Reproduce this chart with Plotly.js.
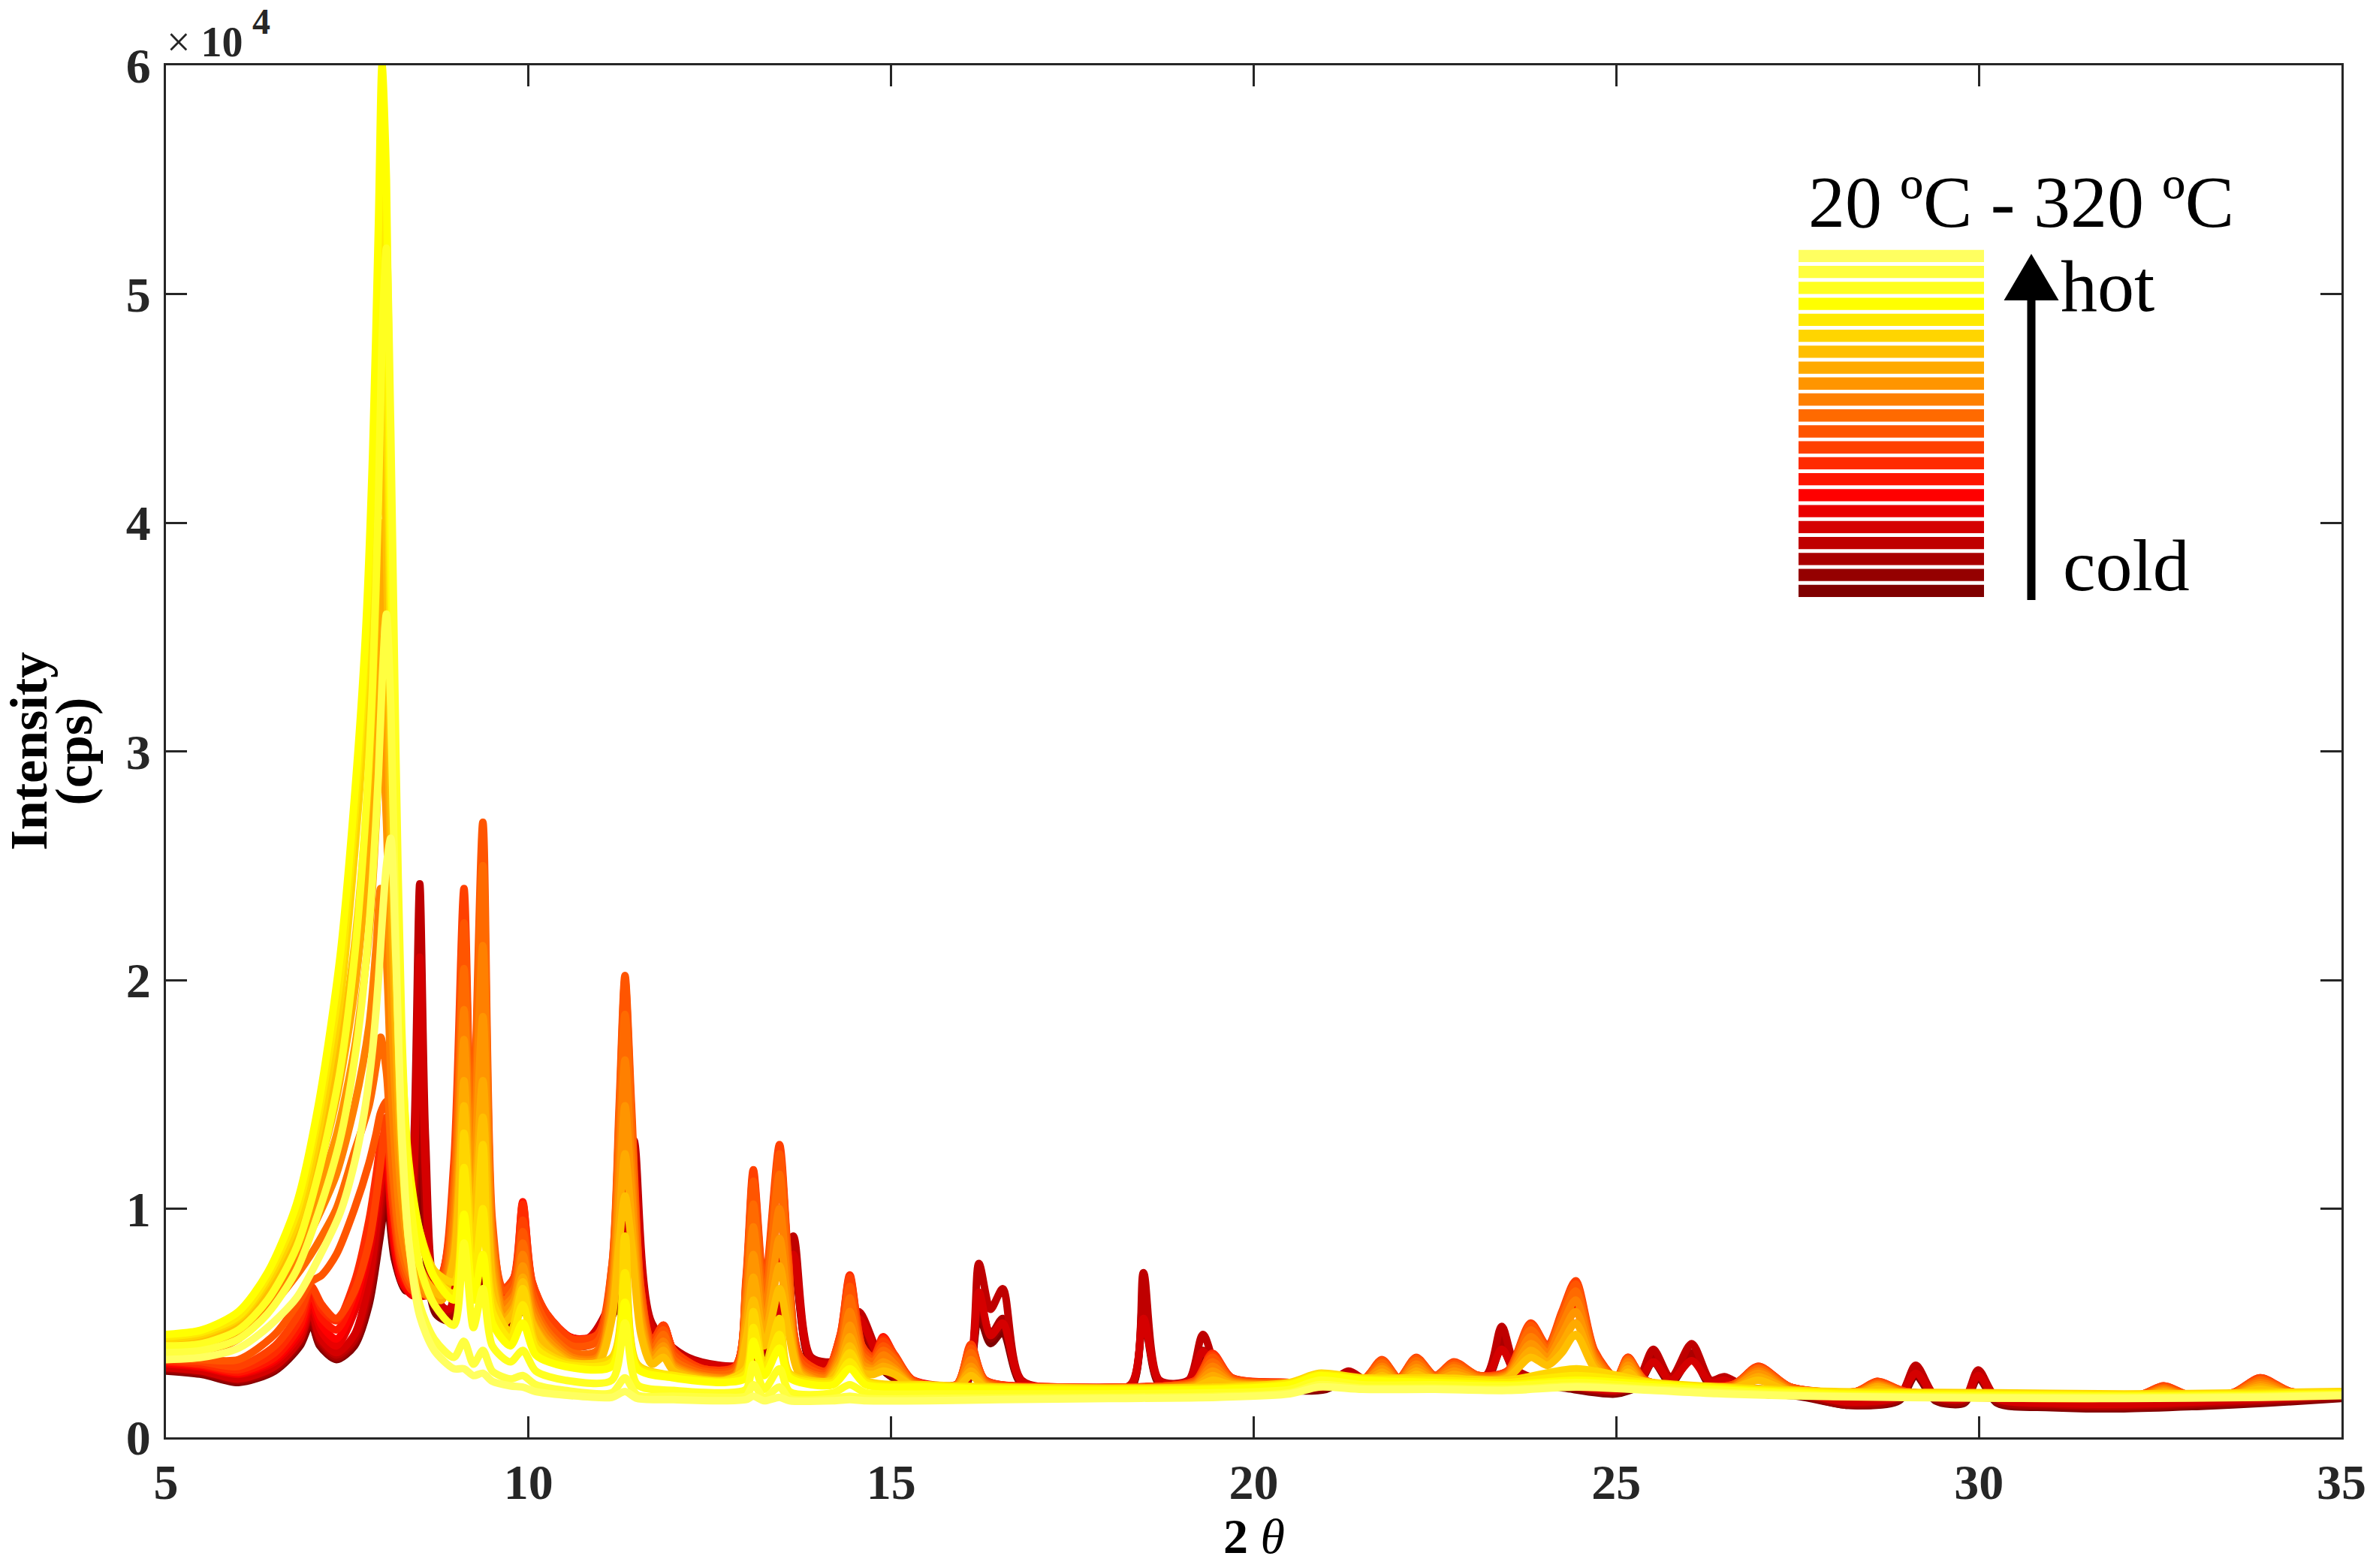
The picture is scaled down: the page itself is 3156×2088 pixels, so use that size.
<!DOCTYPE html>
<html><head><meta charset="utf-8">
<script src="https://cdn.plot.ly/plotly-3.0.1.min.js"></script>
<style>
html,body{margin:0;padding:0;background:#fff;}
#chart{width:3156px;height:2088px;}
.scatterlayer path.js-line{stroke-linejoin:round;stroke-linecap:round;}
</style></head><body><div id="chart"></div>
<script>
// ---- 2theta grids (degrees) ----
const twoThetaCold = [
5.0, 5.5, 6.0, 6.5, 6.85, 7.0, 7.12, 7.35, 7.6, 7.8,
7.95, 8.04, 8.15, 8.3, 8.42, 8.5, 8.58, 8.72, 8.9, 9.05,
9.15, 9.3, 9.42, 9.6, 9.97, 10.3, 10.8, 11.2, 11.45, 11.7,
12.2, 13.0, 13.4, 13.65, 13.9, 14.3, 14.55, 14.9, 15.3, 16.0,
16.21, 16.37, 16.54, 16.8, 17.5, 18.3, 18.48, 18.7, 19.1, 19.3,
19.55, 20.2, 21.0, 21.31, 21.6, 22.5, 23.2, 23.42, 23.65, 24.4,
25.0, 25.3, 25.51, 25.75, 26.04, 26.3, 26.49, 26.8, 27.5, 28.2,
28.9, 29.13, 29.4, 29.8, 29.99, 30.25, 31.0, 32.0, 33.0, 34.0,
35.0];
const twoThetaMid = [
5.0, 5.5, 6.0, 6.5, 6.85, 7.0, 7.15, 7.35, 7.6, 7.8,
7.9, 7.96, 8.04, 8.12, 8.25, 8.4, 8.6, 8.8, 8.97, 9.11,
9.22, 9.37, 9.5, 9.65, 9.8, 9.92, 10.05, 10.25, 10.6, 10.95,
11.15, 11.25, 11.33, 11.42, 11.55, 11.7, 11.86, 12.0, 12.4, 12.85,
13.0, 13.1, 13.25, 13.46, 13.58, 13.75, 14.1, 14.3, 14.43, 14.6,
14.75, 14.89, 15.05, 15.3, 15.9, 16.1, 16.3, 17.3, 18.8, 19.2,
19.43, 19.7, 20.5, 21.5, 21.77, 22.0, 22.24, 22.5, 22.76, 23.1,
23.5, 23.82, 24.05, 24.25, 24.44, 24.7, 25.0, 25.16, 25.4, 26.6,
26.96, 27.4, 28.3, 28.6, 29.0, 32.2, 32.55, 32.9, 33.5, 33.88,
34.3, 35.0];
const twoThetaHot = [
5.0, 5.5, 6.0, 6.4, 6.8, 7.1, 7.4, 7.6, 7.75, 7.85,
7.93, 7.98, 8.04, 8.1, 8.17, 8.25, 8.35, 8.5, 8.7, 8.97,
9.11, 9.24, 9.37, 9.5, 9.75, 9.92, 10.1, 10.5, 11.15, 11.33,
11.5, 12.0, 12.7, 13.0, 13.1, 13.25, 13.46, 13.6, 14.2, 14.43,
14.65, 15.5, 16.5, 18.0, 19.5, 20.5, 20.9, 21.5, 22.5, 23.5,
24.45, 25.5, 26.5, 28.0, 30.0, 32.0, 33.9, 35.0];

// ---- intensities (cps), coldest (I00) to hottest (I21) ----
const I00 = [
2900, 2750, 2400, 2900, 4000, 5000, 4000, 3400, 4000, 5800,
8700, 10500, 7800, 6400, 8000, 13000, 8000, 5400, 5100, 7000,
8500, 6100, 6500, 4600, 5600, 4400, 4000, 5600, 10000, 4500,
3200, 3000, 4400, 7600, 3200, 3100, 4800, 2900, 2200, 2100,
5300, 4100, 4600, 2300, 2000, 2100, 5200, 2300, 2300, 3500,
2400, 2100, 2100, 2600, 2200, 2400, 2450, 3900, 2600, 2100,
1900, 2250, 3300, 2350, 3500, 2250, 2400, 1950, 1800, 1400,
1600, 2700, 1600, 1500, 2600, 1500, 1300, 1250, 1350, 1500,
1700];
const I01 = [
2950, 2800, 2450, 2950, 4100, 5100, 4100, 3450, 4100, 6000,
9000, 11000, 8000, 6500, 9000, 15000, 9000, 5600, 5200, 7200,
9000, 6300, 6800, 4700, 5800, 4500, 4100, 5800, 10500, 4600,
3250, 3050, 4500, 7800, 3250, 3150, 4900, 2950, 2250, 2150,
5600, 4300, 4900, 2350, 2050, 2150, 5600, 2350, 2350, 3600,
2450, 2150, 2150, 2650, 2250, 2450, 2500, 4100, 2650, 2150,
1950, 2300, 3400, 2400, 3600, 2300, 2450, 2000, 1850, 1400,
1650, 2800, 1650, 1550, 2650, 1550, 1350, 1300, 1400, 1550,
1750];
const I02 = [
3000, 2850, 2500, 3000, 4200, 5300, 4200, 3500, 4200, 6200,
9500, 11500, 8200, 6600, 10000, 17000, 10000, 5800, 5300, 7500,
10000, 6500, 7000, 4800, 6000, 4600, 4200, 6000, 11000, 4700,
3300, 3100, 4600, 8000, 3300, 3200, 5000, 3000, 2300, 2200,
6000, 4500, 5200, 2400, 2100, 2200, 6000, 2400, 2400, 3800,
2500, 2200, 2200, 2700, 2300, 2500, 2550, 4300, 2700, 2200,
2000, 2350, 3500, 2450, 3700, 2350, 2500, 2050, 1900, 1450,
1700, 2900, 1700, 1600, 2700, 1600, 1400, 1350, 1450, 1600,
1800];
const I03 = [
3100, 2950, 2600, 3100, 4300, 5500, 4300, 3600, 4300, 6500,
10000, 12000, 8500, 6700, 13000, 24200, 13000, 6200, 5500, 8000,
13000, 7000, 8000, 5000, 6500, 4800, 4300, 6500, 13000, 5000,
3500, 3200, 5000, 8800, 3500, 3400, 5500, 3200, 2400, 2300,
7600, 5600, 6500, 2500, 2150, 2300, 7200, 2500, 2500, 4500,
2700, 2300, 2300, 2900, 2400, 2600, 2700, 4850, 2900, 2300,
2100, 2500, 3850, 2600, 4100, 2500, 2650, 2200, 2000, 1500,
1800, 3150, 1800, 1700, 2950, 1700, 1450, 1400, 1500, 1650,
1850];
const I04 = [
3050, 2900, 2550, 3100, 4300, 5600, 4400, 3700, 4500, 6800,
10500, 12500, 8800, 6800, 11500, 21000, 11500, 6000, 5600, 8500,
11000, 7000, 7500, 5000, 6200, 4800, 4300, 6200, 11500, 4800,
3400, 3200, 4800, 8000, 3400, 3300, 5200, 3100, 2350, 2250,
6350, 4450, 5000, 2450, 2150, 2250, 5200, 2450, 2450, 3750,
2600, 2250, 2250, 2700, 2350, 2550, 2600, 3850, 2700, 2250,
2050, 2400, 3300, 2500, 3350, 2400, 2500, 2100, 1950, 1550,
1800, 2800, 1800, 1700, 2700, 1700, 1500, 1450, 1550, 1700,
1850];
const I05 = [
3200, 3050, 2750, 3300, 4500, 5800, 4600, 4000, 5500, 8000,
10000, 11200, 12000, 9000, 6800, 6200, 6200, 6500, 8000, 11000,
7000, 10000, 6000, 5300, 6000, 8000, 6000, 5200, 4300, 4400,
5500, 9000, 12000, 9000, 5000, 4000, 4700, 3800, 3000, 3100,
4800, 7000, 4500, 8000, 6000, 3300, 2900, 3800, 5000, 3500,
3300, 3800, 3300, 2500, 2300, 3000, 2400, 2200, 2250, 2400,
3000, 2500, 2400, 2450, 2900, 2500, 3000, 2600, 2900, 2650,
2800, 4000, 3400, 4300, 5000, 3300, 2500, 3000, 2400, 2200,
2700, 2150, 1900, 2200, 1900, 1750, 2000, 1750, 1850, 2200,
1900, 1900];
const I06 = [
3250, 3100, 2800, 3400, 4700, 6000, 4900, 4300, 5900, 8500,
10500, 11800, 12500, 9500, 7000, 6300, 6300, 6700, 9000, 15000,
8000, 14000, 7000, 5800, 6500, 9500, 6500, 5300, 4300, 4450,
6000, 11000, 15000, 11000, 5500, 4100, 4800, 3800, 3000, 3100,
5500, 9000, 5200, 10000, 7000, 3400, 2900, 4200, 6000, 3700,
3400, 4200, 3500, 2500, 2300, 3500, 2450, 2200, 2250, 2450,
3300, 2550, 2400, 2450, 3100, 2550, 3200, 2650, 3000, 2650,
2850, 4400, 3600, 4800, 5800, 3500, 2550, 3200, 2450, 2250,
2900, 2150, 1950, 2300, 1950, 1800, 2100, 1800, 1900, 2400,
1950, 1900];
const I07 = [
3300, 3150, 2850, 3500, 4900, 6300, 5200, 4700, 6300, 9000,
11000, 12300, 13000, 10000, 7200, 6400, 6400, 6900, 10000, 19000,
9500, 18000, 8000, 6200, 6800, 10300, 6700, 5400, 4350, 4500,
6500, 12500, 17500, 12500, 6000, 4200, 4900, 3800, 3000, 3100,
6200, 10500, 5800, 11500, 7500, 3500, 2900, 4400, 6700, 3900,
3450, 4400, 3550, 2500, 2300, 3800, 2500, 2200, 2250, 2500,
3500, 2600, 2400, 2500, 3300, 2600, 3400, 2700, 3200, 2700,
2900, 4700, 3800, 5200, 6400, 3650, 2600, 3400, 2500, 2300,
3000, 2200, 2000, 2400, 2000, 1850, 2200, 1850, 1900, 2500,
2000, 1950];
const I08 = [
3350, 3200, 2950, 3700, 5200, 6600, 5600, 5100, 6800, 9500,
11500, 12800, 13500, 10500, 7400, 6500, 6500, 7100, 11000, 22000,
11000, 22000, 8500, 6400, 7000, 10200, 6800, 5400, 4300, 4500,
7000, 13500, 19000, 13500, 6300, 4200, 4900, 3800, 3000, 3100,
6700, 11500, 6200, 12500, 7800, 3500, 2900, 4500, 7100, 4000,
3500, 4300, 3600, 2500, 2300, 4000, 2500, 2200, 2250, 2500,
3680, 2600, 2400, 2500, 3350, 2600, 3450, 2700, 3250, 2700,
2900, 4900, 3900, 5400, 6700, 3750, 2600, 3500, 2500, 2300,
3100, 2200, 2000, 2450, 2000, 1850, 2250, 1850, 1950, 2600,
2000, 1950];
const I09 = [
3400, 3300, 3100, 4000, 5500, 6600, 5800, 5200, 6400, 8500,
10500, 12000, 14000, 10500, 7500, 6400, 6300, 7000, 12000, 24000,
12000, 25000, 9000, 6500, 7000, 9500, 6800, 5400, 4300, 4500,
7500, 14000, 20000, 14000, 6500, 4200, 4900, 3800, 3000, 3100,
7000, 11700, 6500, 12800, 8000, 3500, 2900, 4500, 7000, 4000,
3500, 4200, 3600, 2500, 2300, 4070, 2500, 2200, 2250, 2500,
3600, 2600, 2400, 2500, 3400, 2600, 3500, 2700, 3300, 2700,
2900, 5000, 4000, 5500, 6850, 3800, 2600, 3500, 2500, 2300,
3100, 2200, 2000, 2450, 2000, 1850, 2250, 1850, 1950, 2600,
2000, 1950];
const I10 = [
3500, 3400, 3400, 4500, 6000, 6800, 7100, 8000, 10000, 12000,
13300, 14200, 14700, 11500, 7800, 6600, 6300, 6800, 11000, 22500,
12500, 26900, 9500, 6400, 6800, 9000, 6400, 5000, 4000, 4200,
7500, 14500, 20200, 14500, 6500, 4000, 4700, 3600, 2900, 3000,
6800, 11200, 6300, 12400, 7800, 3300, 2800, 4300, 6600, 3800,
3400, 4000, 3500, 2450, 2300, 3900, 2450, 2200, 2250, 2450,
3500, 2550, 2400, 2500, 3350, 2600, 3450, 2700, 3250, 2700,
2850, 4900, 3950, 5400, 6700, 3700, 2600, 3450, 2500, 2300,
3050, 2200, 2000, 2400, 2000, 1850, 2200, 1850, 1950, 2550,
2000, 1950];
const I11 = [
3700, 3700, 4300, 5900, 7300, 8000, 8800, 10000, 12500, 14500,
16300, 17500, 16000, 12000, 8200, 6800, 6200, 6500, 10500, 20500,
12000, 25000, 9000, 6000, 6500, 8500, 6000, 4700, 3700, 3800,
7000, 13500, 18500, 13500, 6000, 3800, 4500, 3400, 2800, 2900,
6300, 10200, 5800, 11500, 7200, 3100, 2700, 4000, 6100, 3600,
3300, 3800, 3400, 2400, 2250, 3700, 2400, 2150, 2200, 2400,
3300, 2500, 2350, 2450, 3250, 2550, 3350, 2650, 3150, 2650,
2800, 4700, 3850, 5200, 6400, 3600, 2550, 3400, 2450, 2250,
3000, 2150, 1950, 2350, 1950, 1800, 2150, 1800, 1900, 2500,
1950, 1900];
const I12 = [
3900, 3900, 4600, 6200, 8000, 9000, 10000, 11500, 14500, 18000,
21500, 24000, 21000, 14500, 9000, 7000, 6200, 6200, 9500, 18700,
11000, 21500, 8500, 5800, 6200, 8000, 5700, 4500, 3500, 3500,
6500, 12000, 16500, 12000, 5500, 3600, 4200, 3200, 2700, 2750,
5800, 9200, 5300, 10000, 6500, 3000, 2600, 3700, 5500, 3400,
3100, 3600, 3200, 2350, 2250, 3400, 2350, 2150, 2200, 2350,
3100, 2450, 2350, 2400, 3100, 2500, 3200, 2600, 3050, 2600,
2750, 4400, 3700, 4900, 6000, 3450, 2500, 3300, 2400, 2200,
2900, 2100, 1950, 2300, 1950, 1800, 2100, 1800, 1900, 2400,
1950, 1900];
const I13 = [
4000, 4100, 4800, 6500, 8600, 9800, 11200, 13200, 17000, 22000,
27000, 31700, 27000, 18000, 10500, 7500, 6300, 6000, 8500, 17400,
10000, 18400, 7800, 5500, 6000, 7500, 5400, 4300, 3400, 3400,
6000, 10800, 14500, 10800, 5200, 3500, 4000, 3100, 2650, 2700,
5300, 8000, 4800, 8700, 5800, 2900, 2500, 3500, 4900, 3200,
3000, 3300, 3000, 2300, 2200, 3100, 2300, 2150, 2150, 2300,
2900, 2400, 2300, 2400, 3000, 2450, 3050, 2550, 2900, 2550,
2700, 4100, 3500, 4500, 5500, 3300, 2450, 3150, 2350, 2200,
2800, 2050, 1900, 2250, 1900, 1780, 2050, 1780, 1850, 2300,
1900, 1880];
const I14 = [
4100, 4200, 5000, 6800, 9000, 10600, 12200, 14800, 19500, 26000,
33000, 40000, 34000, 22000, 12000, 8000, 6500, 6000, 8000, 15600,
9000, 15600, 7200, 5200, 5700, 7000, 5100, 4100, 3300, 3300,
5500, 9500, 12400, 9500, 4800, 3300, 3800, 3000, 2600, 2600,
4800, 7000, 4400, 7500, 5200, 2800, 2450, 3300, 4400, 3000,
2900, 3100, 2900, 2250, 2200, 2900, 2250, 2100, 2150, 2250,
2700, 2350, 2300, 2350, 2850, 2400, 2900, 2500, 2750, 2500,
2650, 3800, 3300, 4100, 5000, 3150, 2400, 3000, 2300, 2150,
2650, 2050, 1900, 2200, 1900, 1780, 2000, 1780, 1850, 2200,
1900, 1880];
const I15 = [
4200, 4350, 5100, 7000, 9400, 11200, 13000, 16000, 21500, 29000,
37000, 45000, 39000, 25000, 13500, 8500, 6800, 6200, 7800, 14500,
8500, 14000, 6800, 5000, 5500, 6800, 5000, 4000, 3200, 3200,
5200, 8500, 10560, 8500, 4500, 3200, 3500, 2900, 2550, 2550,
4300, 6000, 4000, 6500, 4700, 2700, 2400, 3100, 4000, 2850,
2750, 2900, 2750, 2250, 2150, 2700, 2200, 2100, 2100, 2200,
2500, 2300, 2300, 2300, 2700, 2350, 2750, 2450, 2600, 2450,
2600, 3500, 3150, 3700, 4500, 3000, 2350, 2850, 2250, 2150,
2500, 2000, 1880, 2100, 1880, 1780, 1950, 1780, 1850, 2100,
1880, 1870];
const I16 = [
4300, 4500, 5200, 6800, 9400, 13300, 19000, 25500, 32000, 39000,
47000, 52500, 46000, 33000, 22500, 15500, 11500, 9000, 7300, 6800,
13300, 7200, 12800, 6000, 4600, 6500, 4100, 3300, 3500, 8800,
3200, 2700, 2500, 3000, 5500, 3000, 5200, 2800, 2500, 3700,
2500, 2300, 2200, 2150, 2200, 2400, 2800, 2600, 2600, 2500,
3000, 2400, 2200, 2000, 1950, 1900, 1950, 2000];
const I17 = [
4400, 4600, 5300, 7000, 9800, 14000, 20000, 27000, 34000, 42000,
51000, 57000, 50000, 36000, 24000, 16000, 11500, 8800, 7000, 6300,
11800, 6500, 10000, 5500, 4300, 5800, 3900, 3200, 3300, 7200,
3100, 2700, 2450, 2800, 4800, 2900, 4500, 2700, 2400, 3300,
2400, 2250, 2150, 2100, 2150, 2350, 2750, 2550, 2500, 2400,
2700, 2350, 2150, 1950, 1900, 1850, 1900, 1950];
const I18 = [
4500, 4700, 5500, 7200, 10200, 14500, 21000, 28000, 35000, 43000,
53000, 60000, 55000, 40000, 26000, 17000, 12000, 9000, 7000, 6000,
9750, 6000, 8000, 5000, 4000, 5000, 3600, 3100, 3100, 5900,
3000, 2600, 2400, 2600, 4200, 2700, 3900, 2600, 2300, 3000,
2300, 2200, 2100, 2050, 2100, 2300, 2700, 2500, 2400, 2300,
2500, 2300, 2100, 1900, 1850, 1800, 1850, 1900];
const I19 = [
4000, 4100, 4700, 6000, 8300, 11500, 16000, 21000, 27000, 33000,
41000, 48000, 52000, 44000, 30000, 18000, 11000, 7500, 5800, 4900,
8500, 4800, 6500, 4000, 3300, 3800, 2900, 2500, 2500, 5000,
2300, 2050, 1950, 2100, 3200, 2100, 3000, 2000, 1950, 2300,
1950, 1900, 1900, 1900, 1950, 2100, 2500, 2300, 2300, 2250,
2400, 2200, 2050, 1850, 1800, 1780, 1820, 1880];
const I20 = [
3700, 3800, 4300, 5400, 7300, 9800, 13000, 16500, 20500, 24500,
29000, 33000, 36000, 32000, 22000, 13000, 8500, 5800, 4300, 3500,
4200, 3200, 3800, 2900, 2550, 2700, 2300, 2050, 1950, 2600,
1850, 1800, 1750, 1800, 2300, 1750, 2200, 1700, 1700, 1800,
1700, 1700, 1720, 1750, 1800, 1950, 2300, 2150, 2150, 2100,
2250, 2100, 1950, 1800, 1750, 1730, 1780, 1850];
const I21 = [
3400, 3500, 3900, 4800, 6100, 7800, 9800, 12000, 14500, 17000,
20000, 22500, 25000, 26200, 21000, 13500, 8500, 5300, 3800, 3000,
3000, 2700, 2800, 2450, 2250, 2200, 2000, 1850, 1750, 2000,
1700, 1650, 1600, 1650, 1800, 1600, 1750, 1600, 1600, 1650,
1600, 1600, 1650, 1700, 1750, 1900, 2200, 2100, 2100, 2050,
2200, 2050, 1900, 1780, 1720, 1700, 1750, 1820];

// colours, coldest to hottest
const colors = ['#800000','#950000','#aa0000','#bf0000','#d50000','#ea0000',
  '#ff0000','#ff1500','#ff2b00','#ff4000','#ff5500','#ff6a00','#ff8000',
  '#ff9500','#ffaa00','#ffbf00','#ffd500','#ffea00','#ffff00','#ffff20',
  '#ffff40','#ffff60'];

const xTickVals = [5, 10, 15, 20, 25, 30, 35];
const yTickVals = [0, 10000, 20000, 30000, 40000, 50000, 60000];
const yTickText = ['0', '1', '2', '3', '4', '5', '6'];
const legendTitle = '20 ºC - 320 ºC';
const hotLabel = 'hot';
const coldLabel = 'cold';

const seriesY = [I00,I01,I02,I03,I04,I05,I06,I07,I08,I09,I10,I11,I12,I13,I14,I15,I16,I17,I18,I19,I20,I21];
const seriesX = seriesY.map((_, i) => i < 5 ? twoThetaCold : (i < 16 ? twoThetaMid : twoThetaHot));

const traces = seriesY.map((y, i) => ({
  type: 'scatter', mode: 'lines', x: seriesX[i], y: y,
  line: {color: colors[i], width: 10, shape: 'spline', smoothing: 0.8},
  hoverinfo: 'skip', showlegend: false
}));

// layout geometry (pixels)
const W = 3156, H = 2088, L = 221, R = 3118, T = 87, B = 1914;
const px = v => (v - L) / (R - L);
const py = v => (B - v) / (B - T);
const serif = 'Liberation Serif, Times New Roman, serif';
const axCol = '#262626';

const shapes = [];
// legend colour bars, hottest at top
for (let k = 0; k < colors.length; k++) {
  const c = colors[colors.length - 1 - k];
  const top = 332.7 + k * 21.24;
  shapes.push({type: 'rect', xref: 'paper', yref: 'paper',
    x0: px(2395), x1: px(2642), y0: py(top + 16.3), y1: py(top),
    fillcolor: c, line: {width: 0}});
}
// arrow shaft and head
shapes.push({type: 'line', xref: 'paper', yref: 'paper',
  x0: px(2705), x1: px(2705), y0: py(799), y1: py(398),
  line: {color: '#000', width: 11}});
shapes.push({type: 'path', xref: 'paper', yref: 'paper',
  path: `M ${px(2668.5)} ${py(400)} L ${px(2741.5)} ${py(400)} L ${px(2705)} ${py(338)} Z`,
  fillcolor: '#000', line: {width: 0}});

const annotations = [
  {xref: 'paper', yref: 'paper', x: px(220), y: py(56), xanchor: 'left', yanchor: 'middle',
   text: '× <b>10</b>', showarrow: false, font: {family: serif, size: 56, color: axCol}},
  {xref: 'paper', yref: 'paper', x: px(334), y: py(29), xanchor: 'left', yanchor: 'middle',
   text: '<b>4</b>', showarrow: false, font: {family: serif, size: 48, color: axCol}},
  {xref: 'paper', yref: 'paper', x: px(38), y: 0.5, xanchor: 'center', yanchor: 'middle',
   textangle: -90, text: '<b>Intensity</b>', showarrow: false, font: {family: serif, size: 70, color: '#000'}},
  {xref: 'paper', yref: 'paper', x: px(98), y: 0.5, xanchor: 'center', yanchor: 'middle',
   textangle: -90, text: '<b>(cps)</b>', showarrow: false, font: {family: serif, size: 70, color: '#000'}},
  {xref: 'paper', yref: 'paper', x: 0.5, y: py(2046), xanchor: 'center', yanchor: 'middle',
   text: '<b>2</b> <i>θ</i>', showarrow: false, font: {family: serif, size: 66, color: '#000'}},
  {xref: 'paper', yref: 'paper', x: px(2691.6), y: py(269), xanchor: 'center', yanchor: 'middle',
   text: legendTitle, showarrow: false, font: {family: serif, size: 98, color: '#000'}},
  {xref: 'paper', yref: 'paper', x: px(2742), y: py(381), xanchor: 'left', yanchor: 'middle',
   text: hotLabel, showarrow: false, font: {family: serif, size: 98, color: '#000'}},
  {xref: 'paper', yref: 'paper', x: px(2745), y: py(753), xanchor: 'left', yanchor: 'middle',
   text: coldLabel, showarrow: false, font: {family: serif, size: 98, color: '#000'}}
];

const axisCommon = {
  ticks: 'inside', ticklen: 28, tickwidth: 3, tickcolor: axCol,
  showline: true, linewidth: 3, linecolor: axCol, mirror: 'ticks',
  showgrid: false, zeroline: false,
  tickfont: {family: serif, size: 66, color: axCol, weight: 700}
};

const layout = {
  width: W, height: H,
  margin: {l: L, r: W - R, t: T, b: H - B, pad: 0},
  paper_bgcolor: '#fff', plot_bgcolor: '#fff',
  showlegend: false,
  xaxis: Object.assign({}, axisCommon, {range: [5, 35], tickvals: xTickVals, ticklabelstandoff: 0}),
  yaxis: Object.assign({}, axisCommon, {range: [0, 60000], tickvals: yTickVals, ticktext: yTickText, ticklabelstandoff: 4}),
  shapes: shapes,
  annotations: annotations
};

Plotly.newPlot('chart', traces, layout, {staticPlot: true, displayModeBar: false});
</script>
</body></html>
